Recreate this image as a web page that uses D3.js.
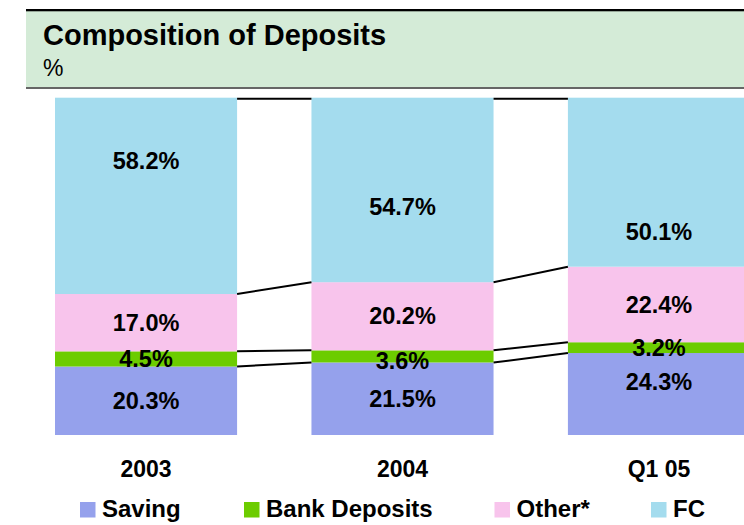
<!DOCTYPE html>
<html>
<head>
<meta charset="utf-8">
<script src="https://cdn.jsdelivr.net/npm/d3@7"></script>
<style>
  html, body { margin: 0; padding: 0; background: #fff; }
  svg { display: block; font-family: "Liberation Sans", Arial, sans-serif; }
</style>
</head>
<body>
<svg id="chart" width="744" height="525"></svg>
<script>
// ---- data ----
const categories = ["2003", "2004", "Q1 05"];
const seriesNames = ["Saving", "Bank Deposits", "Other*", "FC"];
const saving = [20.3, 21.5, 24.3];
const bankDeposits = [4.5, 3.6, 3.2];
const other = [17.0, 20.2, 22.4];
const fc = [58.2, 54.7, 50.1];
// label nudges (percentage points from segment centre)
const labelNudge = [
  [0, 0, 3.6],      // Saving
  [0, -1.2, 0],     // Bank Deposits
  [0, 0, 0],        // Other*
  [10.4, -5, -14.7] // FC
];

const colors = ["#95a1ec", "#6ccc00", "#f8c4ec", "#a4dcee"];

const svg = d3.select("#chart");

// ---- header ----
svg.append("rect").attr("x", 26).attr("y", 11).attr("width", 744 - 26).attr("height", 76).attr("fill", "#d4ebd7");
svg.append("rect").attr("x", 26).attr("y", 9).attr("width", 744 - 26).attr("height", 2.3).attr("fill", "#000");
svg.append("rect").attr("x", 26).attr("y", 87).attr("width", 744 - 26).attr("height", 2).attr("fill", "#666");
svg.append("text").attr("x", 43).attr("y", 44.5).attr("font-size", 29).attr("font-weight", "bold").attr("fill", "#000").text("Composition of Deposits");
svg.append("text").attr("x", 43).attr("y", 76).attr("font-size", 23).attr("fill", "#000").text("%");

// ---- scales ----
const x = d3.scaleBand().domain(categories).range([55, 750]).paddingInner(0.29).paddingOuter(0);
const y = d3.scaleLinear().domain([0, 100]).range([435, 97.7]);

const seriesValues = [saving, bankDeposits, other, fc];
const table = categories.map((c, i) => {
  const row = { cat: c };
  seriesNames.forEach((s, k) => row[s] = seriesValues[k][i]);
  return row;
});
const stacked = d3.stack().keys(seriesNames)(table);

// ---- bars ----
const g = svg.append("g");
stacked.forEach((layer, k) => {
  g.selectAll(null).data(layer).enter().append("rect")
    .attr("x", d => x(d.data.cat))
    .attr("width", x.bandwidth())
    .attr("y", d => y(d[1]))
    .attr("height", d => y(d[0]) - y(d[1]))
    .attr("fill", colors[k]);
});

// ---- connector lines ----
const lines = svg.append("g").attr("stroke", "#000").attr("stroke-width", 2);
for (let i = 0; i < categories.length - 1; i++) {
  stacked.forEach(layer => {
    const a = layer[i], b = layer[i + 1];
    lines.append("line")
      .attr("x1", x(categories[i]) + x.bandwidth())
      .attr("y1", y(a[1]) + (a[1] >= 100 ? 1 : 0))
      .attr("x2", x(categories[i + 1]))
      .attr("y2", y(b[1]) + (b[1] >= 100 ? 1 : 0));
  });
}

// ---- value labels ----
stacked.forEach((layer, k) => {
  svg.selectAll(null).data(layer).enter().append("text")
    .attr("x", d => x(d.data.cat) + x.bandwidth() / 2)
    .attr("y", (d, i) => y((d[0] + d[1]) / 2 + labelNudge[k][i]))
    .attr("dy", "0.35em")
    .attr("text-anchor", "middle")
    .attr("font-size", 23.5)
    .attr("font-weight", "bold")
    .attr("fill", "#000")
    .text(d => d3.format(".1f")(d[1] - d[0]) + "%");
});

// ---- category axis labels ----
const xAxis = d3.axisBottom(x).tickSize(0).tickPadding(0);
const ax = svg.append("g").attr("transform", "translate(0,461)").call(xAxis);
ax.select(".domain").remove();
ax.selectAll("text").attr("font-size", 23).attr("font-weight", "bold").attr("fill", "#000")
  .attr("font-family", "Liberation Sans, Arial, sans-serif").attr("dy", "0.71em");

// ---- legend ----
const legendX = [80, 244, 494.5, 651];
const leg = svg.append("g");
seriesNames.forEach((s, k) => {
  leg.append("rect").attr("x", legendX[k]).attr("y", 502).attr("width", 15.5).attr("height", 15.5).attr("fill", colors[k]);
  leg.append("text").attr("x", legendX[k] + 22).attr("y", 517).attr("font-size", 24).attr("font-weight", "bold").attr("fill", "#000").text(s);
});
</script>
</body>
</html>
